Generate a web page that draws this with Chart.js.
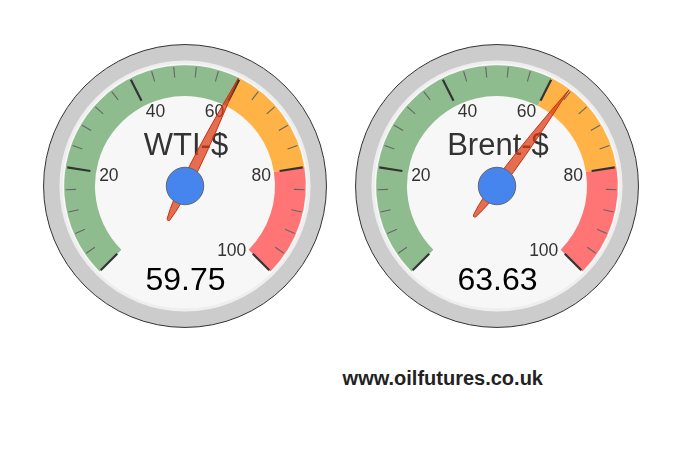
<!DOCTYPE html>
<html>
<head>
<meta charset="utf-8">
<script src="https://cdn.jsdelivr.net/npm/chart.js@4.4.1/dist/chart.umd.min.js"></script>
<style>
html,body{margin:0;padding:0;background:#fff;width:696px;height:455px;overflow:hidden;}
.g{position:absolute;width:300px;height:300px;top:35.7px;}
#g0{left:35px;}
#g1{left:347px;}
#site{position:absolute;left:292.8px;top:368px;width:300px;text-align:center;
  font:bold 20px "Liberation Sans",Arial,sans-serif;line-height:20px;color:#222;white-space:nowrap;}
</style>
</head>
<body>
<div class="g" id="g0"><canvas id="c0" width="300" height="300"></canvas></div>
<div class="g" id="g1"><canvas id="c1" width="300" height="300"></canvas></div>
<div id="site">www.oilfutures.co.uk</div>
<script>
// ---- data ----
const gaugeNames = ['WTI-$', 'Brent-$'];
const gaugeValues = [59.75, 63.63];
const gaugeMin = 0;
const gaugeMax = 100;
const bandEdges = [0, 60, 80, 100];          // green, yellow, red ranges
const majorTickLabels = ['', '20', '40', '60', '80', '100'];
const minorTicks = 5;

// ---- helpers ----
const FONT = '"Liberation Sans", Arial, sans-serif';
function angleOf(v) { return (-135 + 270 * (v - gaugeMin) / (gaugeMax - gaugeMin)) * Math.PI / 180; }
function pt(cx, cy, r, a) { return [cx + r * Math.sin(a), cy - r * Math.cos(a)]; }

const gaugePlugin = {
  id: 'gauge',
  beforeDatasetsDraw(chart) {
    const arc = chart.getDatasetMeta(0).data[0];
    const ctx = chart.ctx, cx = arc.x, cy = arc.y, R = arc.outerRadius / 0.851;
    ctx.save();
    ctx.beginPath(); ctx.arc(cx, cy, R - 0.5, 0, Math.PI * 2);
    ctx.fillStyle = '#cccccc'; ctx.fill();
    ctx.lineWidth = 1; ctx.strokeStyle = '#333333'; ctx.stroke();
    ctx.beginPath(); ctx.arc(cx, cy, R * 0.874, 0, Math.PI * 2);
    ctx.fillStyle = '#f7f7f7'; ctx.fill();
    ctx.lineWidth = 3; ctx.strokeStyle = '#eeeeee'; ctx.stroke();
    ctx.restore();
  },
  afterDatasetsDraw(chart, args, opts) {
    const arc = chart.getDatasetMeta(0).data[0];
    const ctx = chart.ctx, cx = arc.x, cy = arc.y, R = arc.outerRadius / 0.851;
    const idx = opts.index;
    ctx.save();
    // ticks
    const nMaj = majorTickLabels.length - 1;
    const step = (gaugeMax - gaugeMin) / nMaj;
    ctx.lineCap = 'butt';
    for (let i = 0; i <= nMaj; i++) {
      const v = gaugeMin + i * step;
      const a = angleOf(v);
      let p1 = pt(cx, cy, R * 0.84, a), p2 = pt(cx, cy, R * 0.675, a);
      ctx.beginPath(); ctx.moveTo(p1[0], p1[1]); ctx.lineTo(p2[0], p2[1]);
      ctx.lineWidth = 2.2; ctx.strokeStyle = '#333333'; ctx.stroke();
      if (i < nMaj) {
        for (let j = 1; j < minorTicks; j++) {
          const am = angleOf(v + j * step / minorTicks);
          p1 = pt(cx, cy, R * 0.842, am); p2 = pt(cx, cy, R * 0.768, am);
          ctx.beginPath(); ctx.moveTo(p1[0], p1[1]); ctx.lineTo(p2[0], p2[1]);
          ctx.lineWidth = 1.1; ctx.strokeStyle = '#666666'; ctx.stroke();
        }
      }
      const lab = majorTickLabels[i];
      if (lab) {
        const p = pt(cx, cy, R * 0.616, a);
        const s = Math.sin(a);
        ctx.font = '17.5px ' + FONT; ctx.fillStyle = '#333333'; ctx.textBaseline = 'alphabetic';
        let x = p[0];
        if (s < -0.01) { ctx.textAlign = 'left'; x += 0.5; }
        else if (s > 0.01) { ctx.textAlign = 'right'; x -= 0.5; }
        else ctx.textAlign = 'center';
        ctx.fillText(lab, x, p[1] + 8.5);
      }
    }
    // title
    ctx.font = '31px ' + FONT; ctx.fillStyle = '#333333'; ctx.textAlign = 'center'; ctx.textBaseline = 'alphabetic';
    ctx.fillText(gaugeNames[idx], cx + 1, cy - 0.216 * R);
    // value
    ctx.font = '32px ' + FONT; ctx.fillStyle = '#000000';
    ctx.fillText(String(gaugeValues[idx]), cx + 0.5, cy + 0.73 * R);
    // needle
    const a = angleOf(gaugeValues[idx]);
    const ux = Math.sin(a), uy = -Math.cos(a), nx = Math.cos(a), ny = Math.sin(a);
    const tip = [cx + ux * R * 0.845, cy + uy * R * 0.845];
    const tl = [cx - ux * R * 0.263, cy - uy * R * 0.263];
    const k = R * 0.063;
    ctx.beginPath();
    ctx.moveTo(tip[0], tip[1]);
    ctx.quadraticCurveTo(cx + nx * k, cy + ny * k, tl[0] + nx * 1.5, tl[1] + ny * 1.5);
    ctx.quadraticCurveTo(tl[0] - ux * 2.5, tl[1] - uy * 2.5, tl[0] - nx * 1.5, tl[1] - ny * 1.5);
    ctx.quadraticCurveTo(cx - nx * k, cy - ny * k, tip[0], tip[1]);
    ctx.closePath();
    ctx.fillStyle = 'rgba(220,57,18,0.72)'; ctx.fill();
    ctx.lineWidth = 1; ctx.strokeStyle = '#c63310'; ctx.stroke();
    // hub
    ctx.beginPath(); ctx.arc(cx, cy, R * 0.132, 0, Math.PI * 2);
    ctx.fillStyle = '#4684ee'; ctx.fill();
    ctx.lineWidth = 1; ctx.strokeStyle = '#666666'; ctx.stroke();
    ctx.restore();
  }
};

function bandSizes() {
  const out = [];
  for (let i = 1; i < bandEdges.length; i++) out.push(bandEdges[i] - bandEdges[i - 1]);
  return out;
}

const rb = 120.8;
const padX = 150 - rb;
const padTop = 150 - 0.146447 * rb - rb;
const padBottom = 300 - (150 - 0.146447 * rb + rb);

gaugeNames.forEach((name, i) => {
  new Chart(document.getElementById('c' + i), {
    type: 'doughnut',
    data: {
      labels: ['green', 'yellow', 'red'],
      datasets: [{
        data: bandSizes(),
        backgroundColor: ['#8fbc8f', '#ffb347', '#ff7575'],
        borderWidth: 0,
        hoverOffset: 0,
        offset: 0
      }]
    },
    options: {
      responsive: false,
      animation: false,
      events: [],
      rotation: -135,
      circumference: 270,
      cutout: '74.5%',
      layout: { padding: { left: padX, right: padX, top: padTop, bottom: padBottom } },
      plugins: { legend: { display: false }, tooltip: { enabled: false }, gauge: { index: i } }
    },
    plugins: [gaugePlugin]
  });
});
</script>
</body>
</html>
